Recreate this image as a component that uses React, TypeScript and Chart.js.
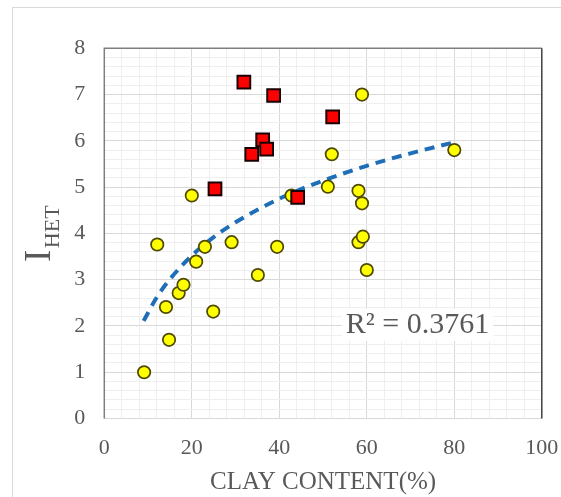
import React, { useEffect, useRef } from "react";
import { Chart, registerables } from "chart.js";

Chart.register(...registerables);

// Yellow circles (clay %, I_HET)
const yellowX = [9.1, 12.1, 14.1, 14.8, 17.0, 18.1, 20.0, 21.0, 23.0, 24.9, 29.1, 35.1, 39.5, 42.8, 51.1, 52.0, 58.1, 58.1, 58.9, 59.1, 58.9, 60.0, 80.0];
const yellowY = [1.0, 3.76, 2.41, 1.70, 2.71, 2.89, 4.82, 3.39, 3.71, 2.31, 3.81, 3.10, 3.71, 4.82, 5.01, 5.71, 4.92, 3.81, 4.65, 3.93, 7.0, 3.21, 5.80];

// Red squares
const redX = [31.9, 38.7, 52.2, 36.2, 33.7, 37.1, 25.3, 44.2];
const redY = [7.27, 6.98, 6.52, 6.02, 5.71, 5.82, 4.96, 4.78];

// Trendline
const trendX = [9, 12, 15, 20, 25, 30, 40, 50, 60, 70, 80];
const trendY = [2.11, 2.62, 3.01, 3.52, 3.92, 4.24, 4.75, 5.14, 5.46, 5.73, 5.97];

const xMajorTicks = [0, 20, 40, 60, 80, 100];
const yMajorTicks = [0, 1, 2, 3, 4, 5, 6, 7, 8];
const r2Label = "R² = 0.3761";
const xTitle = "CLAY CONTENT(%)";
const yTitleMain = "I";
const yTitleSub = "HET";

const FONT = "'Liberation Serif', 'Times New Roman', serif";
const TEXT = "#595959";

const isMajorX = (v: number) => xMajorTicks.some((t) => Math.abs(t - v) < 1e-6);
const isMajorY = (v: number) => yMajorTicks.some((t) => Math.abs(t - v) < 1e-6);

const decorPlugin = {
  id: "decor",
  beforeDraw(chart: any) {
    const ctx = chart.ctx;
    ctx.save();
    ctx.fillStyle = "#ffffff";
    ctx.fillRect(0, 0, chart.width, chart.height);
    ctx.strokeStyle = "#d9d9d9";
    ctx.lineWidth = 1;
    ctx.strokeRect(12.5, 7.5, chart.width + 20, chart.height + 20);
    ctx.restore();
  },
  beforeDatasetsDraw(chart: any) {
    const ctx = chart.ctx;
    const { left, right, top, bottom } = chart.chartArea;
    ctx.save();
    ctx.lineWidth = 1.5;
    ctx.strokeStyle = "#7f7f7f";
    ctx.beginPath();
    ctx.moveTo(left, bottom);
    ctx.lineTo(left, top);
    ctx.lineTo(right, top);
    ctx.stroke();
    ctx.strokeStyle = "#404040";
    ctx.beginPath();
    ctx.moveTo(right, top);
    ctx.lineTo(right, bottom);
    ctx.stroke();

    // R² label
    const xs = chart.scales.x;
    const ys = chart.scales.y;
    const cx = xs.getPixelForValue(71.6);
    const cy = ys.getPixelForValue(2.02);
    ctx.font = `30px ${FONT}`;
    const w = ctx.measureText(r2Label).width;
    ctx.fillStyle = "#ffffff";
    ctx.fillRect(cx - w / 2 - 4, cy - 16, w + 8, 32);
    ctx.fillStyle = TEXT;
    ctx.textAlign = "center";
    ctx.textBaseline = "middle";
    ctx.fillText(r2Label, cx, cy);

    // Y title with subscript
    ctx.translate(50, 262);
    ctx.rotate(-Math.PI / 2);
    ctx.textAlign = "left";
    ctx.textBaseline = "alphabetic";
    ctx.font = `37px ${FONT}`;
    const wi = ctx.measureText(yTitleMain).width;
    ctx.fillText(yTitleMain, 0, 0);
    ctx.font = `22px ${FONT}`;
    ctx.fillText(yTitleSub, wi + 1.5, 9.3);
    ctx.restore();
  },
};

export default function App() {
  const ref = useRef<HTMLCanvasElement | null>(null);
  useEffect(() => {
    if (!ref.current) return;
    const chart = new Chart(ref.current, {
      type: "scatter",
      data: {
        datasets: [
          {
            label: "red",
            data: redX.map((x, i) => ({ x, y: redY[i] })),
            pointStyle: "rect",
            pointRadius: 9,
            pointHoverRadius: 9,
            backgroundColor: "#ff0000",
            borderColor: "#1a0000",
            borderWidth: 2,
          },
          {
            label: "yellow",
            data: yellowX.map((x, i) => ({ x, y: yellowY[i] })),
            pointStyle: "circle",
            pointRadius: 6.2,
            pointHoverRadius: 6.2,
            backgroundColor: "#ffff00",
            borderColor: "#4f4a00",
            borderWidth: 1.75,
          },
          {
            type: "line",
            label: "trend",
            data: trendX.map((x, i) => ({ x, y: trendY[i] })),
            showLine: true,
            pointRadius: 0,
            borderColor: "#1f6fb8",
            borderWidth: 4,
            borderDash: [10, 7],
            cubicInterpolationMode: "monotone",
            fill: false,
          } as any,
        ],
      },
      options: {
        animation: false,
        responsive: false,
        devicePixelRatio: 1,
        layout: { padding: { top: 48.3, right: 19.2, left: 0, bottom: 0 } },
        plugins: {
          legend: { display: false },
          tooltip: { enabled: false },
        },
        scales: {
          x: {
            type: "linear",
            min: 0,
            max: 100,
            border: { display: false },
            grid: {
              drawTicks: false,
              color: (c: any) => (isMajorX(c.tick.value) ? "#d9d9d9" : "#efefef"),
            },
            ticks: {
              stepSize: 4,
              autoSkip: false,
              maxRotation: 0,
              padding: 17,
              color: TEXT,
              font: { family: FONT, size: 22 },
              callback: (v: any) => (isMajorX(Number(v)) ? String(Math.round(Number(v))) : ""),
            },
            title: {
              display: true,
              text: xTitle,
              color: TEXT,
              font: { family: FONT, size: 25 },
              padding: { top: 4, bottom: 0 },
            },
            afterFit: (s: any) => {
              s.height = 78.5;
              s.paddingLeft = 0;
              s.paddingRight = 0;
            },
          },
          y: {
            type: "linear",
            min: 0,
            max: 8,
            border: { display: false },
            grid: {
              drawTicks: false,
              color: (c: any) => (isMajorY(c.tick.value) ? "#d9d9d9" : "#efefef"),
            },
            ticks: {
              stepSize: 0.2,
              autoSkip: false,
              padding: 19,
              color: TEXT,
              font: { family: FONT, size: 22 },
              callback: (v: any) => (isMajorY(Number(v)) ? String(Math.round(Number(v))) : ""),
            },
            afterFit: (s: any) => {
              s.width = 104.3;
              s.paddingTop = 0;
              s.paddingBottom = 0;
            },
          },
        },
      },
      plugins: [decorPlugin],
    } as any);
    return () => chart.destroy();
  }, []);

  return (
    <div style={{ position: "fixed", left: 0, top: 0, width: 561, height: 497, background: "#fff" }}>
      <canvas ref={ref} width={561} height={497} style={{ width: 561, height: 497, display: "block" }} />
    </div>
  );
}
